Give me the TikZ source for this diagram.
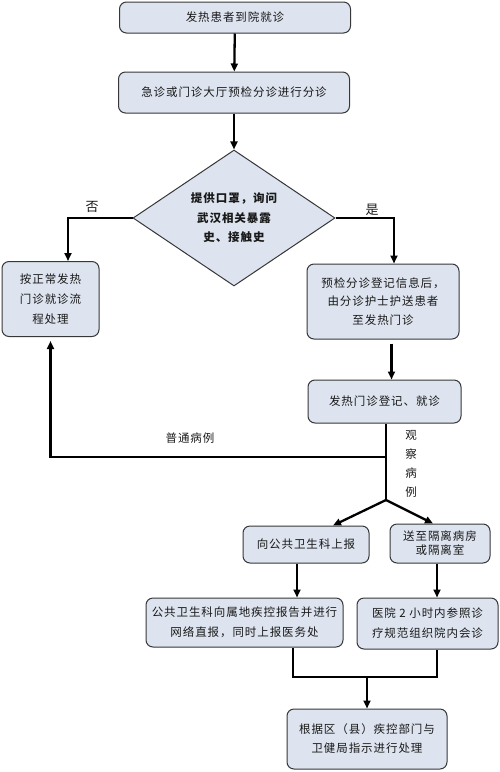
\documentclass[tikz,border=0pt]{standalone}
\usepackage{fontspec}
\setmainfont[LetterSpace=8]{Noto Sans CJK SC}
\usetikzlibrary{arrows.meta,shapes.geometric}
\definecolor{boxfill}{RGB}{221,228,239}
\definecolor{boxline}{RGB}{55,55,55}

\begin{document}
\begin{tikzpicture}[x=1pt, y=-1pt, every node/.style={font=\fontsize{11.5}{20}\selectfont, text=black!90}, >={Triangle[length=8pt,width=7pt]},
	box/.style={draw=boxline, fill=boxfill, line width=1pt, rounded corners=7pt, align=center, inner sep=0pt},
	link/.style={line width=2.3pt, black},
	lab/.style={inner sep=1pt}]
	\useasboundingbox (0,0) rectangle (500,772);
	% top of the chart
	\node[box, minimum width=231, minimum height=31] (arrive) at (235,17.5) {发热患者到院就诊};
	\node[box, minimum width=231, minimum height=41] (triage) at (234,92.5) {急诊或门诊大厅预检分诊进行分诊};
	\node[box, shape=diamond, rounded corners=0pt, minimum width=202, minimum height=130, font=\fontsize{11.5}{19.5}\selectfont\bfseries] (ask) at (234,218) {提供口罩，询问\\武汉相关暴露\\史、接触史};
	\draw[link,->] (arrive) -- (triage);
	\draw[link,->] (triage) -- (ask);
	% two branches of the question
	\node[box, minimum width=97, minimum height=75] (normal) at (50.5,299) {按正常发热\\门诊就诊流\\程处理};
	\node[box, minimum width=152, minimum height=75, font=\fontsize{11.5}{18.5}\selectfont] (escort) at (383,301.5) {预检分诊登记信息后，\\由分诊护士护送患者\\至发热门诊};
	\draw[link,->] (ask.west) -| ([xshift=17.5]normal.north);
	\draw[link,->] (ask.east) -| ([xshift=11]escort.north);
	\node[lab, font=\fontsize{13}{14}\selectfont] (no) at (92,207) {否};
	\node[lab, font=\fontsize{13}{14}\selectfont] (yes) at (372,210) {是};
	% fever clinic
	\node[box, minimum width=153, minimum height=43] (fever) at (384.5,401.5) {发热门诊登记、就诊};
	\draw[link,->, shorten <=4pt] ([xshift=8.5]escort.south) -- ([xshift=8.5]escort.south |- fever.north);
	\coordinate (bend) at (386,457);
	\coordinate (split) at (386,500);
	\draw[link] ([xshift=1.5]fever.south) -- (split);
	\draw[link,->, shorten >=4pt] (bend) -| (normal.south);
	\node[lab] (common) at (190,438) {普通病例};
	\node[lab, align=center, font=\fontsize{11.5}{19}\selectfont] (observe) at (411,463.5) {观\\察\\病\\例};
	% observed cases
	\node[box, minimum width=126, minimum height=37] (report) at (306,544.5) {向公共卫生科上报};
	\node[box, minimum width=100, minimum height=39, font=\fontsize{11.5}{14}\selectfont] (isolate) at (440,543.5) {送至隔离病房\\或隔离室};
	\draw[link,->] (split) -- ([xshift=27]report.north);
	\draw[link,->] (split) -- ([xshift=-7]isolate.north);
	\node[box, minimum width=197, minimum height=49] (notify) at (244.5,622.5) {公共卫生科向属地疾控报告并进行\\网络直报，同时上报医务处};
	\node[box, minimum width=141, minimum height=51] (consult) at (427.5,623.5) {医院 2 小时内参照诊\\疗规范组织院内会诊};
	\draw[link,->] ([xshift=-9]report.south) -- ([xshift=-9]report.south |- notify.north);
	\draw[link,->] ([xshift=-3]isolate.south) -- ([xshift=-3]isolate.south |- consult.north);
	% joint handling
	\coordinate (join) at (367,677);
	\node[box, minimum width=160, minimum height=60, font=\fontsize{11.5}{19}\selectfont] (final) at (367,739) {根据区（县）疾控部门与\\卫健局指示进行处理};
	\draw[link] ([xshift=48.5]notify.south) |- (join) -| ([xshift=9.5]consult.south);
	\draw[link,->] (join) -- (final);
\end{tikzpicture}
\end{document}
